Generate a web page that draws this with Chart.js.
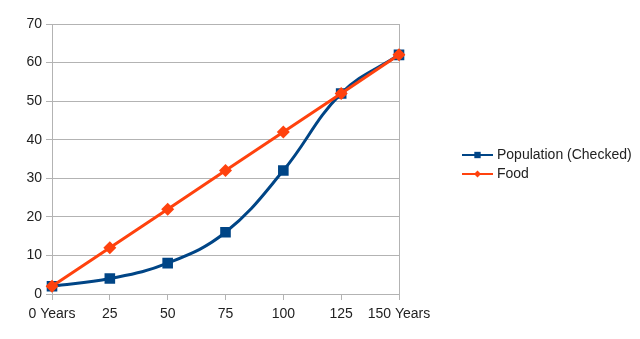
<!DOCTYPE html>
<html>
<head>
<meta charset="utf-8">
<script src="https://cdn.jsdelivr.net/npm/chart.js@4"></script>
<style>
  html, body { margin: 0; padding: 0; background: #fff; }
  #wrap { width: 640px; height: 339px; }
</style>
</head>
<body>
<div id="wrap"><canvas id="myChart" width="640" height="339"></canvas></div>
<script>
const labels = ["0 Years", "25", "50", "75", "100", "125", "150 Years"];
const population = [2, 4, 8, 16, 32, 52, 62];
const food = [2, 12, 22, 32, 42, 52, 62];
const yTicks = [0, 10, 20, 30, 40, 50, 60, 70];

const BLUE = "#004586";
const ORANGE = "#ff420e";
const GRID = "#b3b3b3";
const FONT = "'Liberation Sans', Arial, sans-serif";

// legend with line + marker, like the office chart
const lineLegend = {
  id: "lineLegend",
  afterDraw(chart) {
    const ctx = chart.ctx;
    const items = [
      { text: "Population (Checked)", color: BLUE, style: "rect", r: 4.5 },
      { text: "Food", color: ORANGE, style: "rectRot", r: 3.5 },
    ];
    ctx.save();
    items.forEach((it, i) => {
      const y = 155 + i * 19;
      ctx.strokeStyle = it.color;
      ctx.lineWidth = 2;
      ctx.beginPath();
      ctx.moveTo(462, y);
      ctx.lineTo(493, y);
      ctx.stroke();
      ctx.fillStyle = it.color;
      Chart.helpers.drawPoint(ctx, { pointStyle: it.style, radius: it.r, borderWidth: 0 }, 477.5, y);
      ctx.fillStyle = "#222";
      ctx.font = "14px " + FONT;
      ctx.textBaseline = "middle";
      ctx.textAlign = "left";
      ctx.fillText(it.text, 497, y);
    });
    ctx.restore();
  },
};

new Chart(document.getElementById("myChart"), {
  type: "line",
  plugins: [lineLegend],
  data: {
    labels: labels,
    datasets: [
      {
        label: "Population (Checked)",
        data: population,
        borderColor: BLUE,
        backgroundColor: BLUE,
        borderWidth: 3,
        tension: 0.4,
        pointStyle: "rect",
        pointRadius: 7.5,
        pointBorderWidth: 0,
        order: 1,
      },
      {
        label: "Food",
        data: food,
        borderColor: ORANGE,
        backgroundColor: ORANGE,
        borderWidth: 3,
        tension: 0,
        pointStyle: "rectRot",
        pointRadius: 6.5,
        pointBorderWidth: 0,
        order: 0,
      },
    ],
  },
  options: {
    responsive: false,
    animation: false,
    layout: { padding: { left: 0, top: 24, right: 241, bottom: 0 } },
    plugins: {
      legend: { display: false },
      tooltip: { enabled: false },
    },
    scales: {
      x: {
        offset: false,
        grid: {
          color: (c) => (c.index === labels.length - 1 ? GRID : "rgba(0,0,0,0)"),
          tickColor: GRID,
          tickLength: 6,
          lineWidth: 1,
        },
        border: { color: GRID },
        ticks: {
          color: "#222",
          font: { family: FONT, size: 14 },
          padding: 6,
          maxRotation: 0,
          autoSkip: false,
        },
        afterFit(scale) { scale.height = 45; },
      },
      y: {
        min: yTicks[0],
        max: yTicks[yTicks.length - 1],
        grid: { color: GRID, tickColor: GRID, tickLength: 6 },
        border: { color: GRID },
        afterBuildTicks(scale) { scale.ticks = yTicks.map((v) => ({ value: v })); },
        ticks: {
          color: "#222",
          font: { family: FONT, size: 14 },
          padding: 4,
        },
        afterFit(scale) { scale.width = 52; },
      },
    },
  },
});
</script>
</body>
</html>
